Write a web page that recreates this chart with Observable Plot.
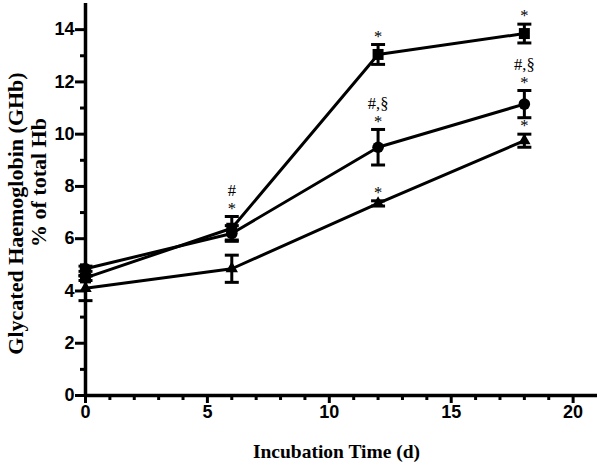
<!DOCTYPE html>
<html><head><meta charset="utf-8">
<script src="https://cdn.jsdelivr.net/npm/d3@7"></script>
<script src="https://cdn.jsdelivr.net/npm/@observablehq/plot@0.6"></script>
<style>body{margin:0;background:#fff}</style>
</head><body><div id="chart"></div>
<script>
// ---- data ----
const days = [0, 6, 12, 18];
const seriesNames = ["square", "circle", "triangle"];
const squareMean = [4.5, 6.4, 13.05, 13.85];
const squareErr = [0.1, 0.45, 0.38, 0.36];
const circleMean = [4.85, 6.2, 9.5, 11.15];
const circleErr = [0.1, 0.3, 0.68, 0.52];
const triangleMean = [4.1, 4.85, 7.35, 9.75];
const triangleErr = [0.47, 0.52, 0.1, 0.25];

const annDay = [6, 6, 12, 12, 12, 12, 18, 18, 18, 18];
const annSeries = ["square", "square", "square", "circle", "circle", "triangle", "square", "circle", "circle", "triangle"];
const annText = ["*", "#", "*", "*", "#,§", "*", "*", "*", "#,§", "*"];
const annLevel = [0, 1, 0, 0, 1, 0, 0, 0, 1, 0];

const xMajorTicks = [0, 5, 10, 15, 20];
const xMinorTicks = [1, 2, 3, 4, 6, 7, 8, 9, 11, 12, 13, 14, 16, 17, 18, 19];
const yMajorTicks = [0, 2, 4, 6, 8, 10, 12, 14];
const yMinorTicks = [1, 3, 5, 7, 9, 11, 13];

const xLabel = "Incubation Time (d)";
const yLabel1 = "Glycated Haemoglobin (GHb)";
const yLabel2 = "% of total Hb";

// ---- build table ----
const meanBy = {square: squareMean, circle: circleMean, triangle: triangleMean};
const errBy = {square: squareErr, circle: circleErr, triangle: triangleErr};
const rows = [];
for (const s of seriesNames) {
  days.forEach((d, i) => rows.push({series: s, day: d, mean: meanBy[s][i], lo: meanBy[s][i] - errBy[s][i], hi: meanBy[s][i] + errBy[s][i]}));
}
const anns = annDay.map((d, i) => {
  const k = days.indexOf(d);
  const s = annSeries[i];
  return {day: d, top: meanBy[s][k] + errBy[s][k], text: annText[i], level: annLevel[i]};
});

const capSymbol = {draw(ctx) { ctx.moveTo(-7, 0); ctx.lineTo(7, 0); }};
const serif = "Liberation Serif";
const sans = "Liberation Sans";

const chart = Plot.plot({
  width: 600,
  height: 470,
  marginLeft: 85,
  marginRight: 3,
  marginTop: 3,
  marginBottom: 75,
  style: {fontFamily: sans, color: "black", background: "white"},
  x: {domain: [0, 21], axis: null},
  y: {domain: [0, 15], axis: null},
  marks: [
    Plot.axisX({ticks: xMinorTicks, tickSize: 5, text: null, strokeWidth: 3, label: null}),
    Plot.axisX({ticks: xMajorTicks, tickSize: 8, tickPadding: 2, strokeWidth: 3, fontSize: 18, fontWeight: "bold", label: null}),
    Plot.axisY({ticks: yMinorTicks, tickSize: 5, text: null, strokeWidth: 3, label: null}),
    Plot.axisY({ticks: yMajorTicks, tickSize: 10, tickPadding: 1, strokeWidth: 3, fontSize: 18, fontWeight: "bold", label: null}),
    Plot.ruleY([0], {strokeWidth: 3.5}),
    Plot.ruleX([0], {strokeWidth: 3.5}),
    Plot.line(rows, {x: "day", y: "mean", z: "series", stroke: "black", strokeWidth: 3}),
    Plot.ruleX(rows, {x: "day", y1: "lo", y2: "hi", stroke: "black", strokeWidth: 3}),
    Plot.dot(rows, {x: "day", y: "lo", symbol: capSymbol, stroke: "black", strokeWidth: 3, fill: "none"}),
    Plot.dot(rows, {x: "day", y: "hi", symbol: capSymbol, stroke: "black", strokeWidth: 3, fill: "none"}),
    Plot.dot(rows.filter(d => d.series === "square"), {x: "day", y: "mean", symbol: "square", r: 6.2, fill: "black"}),
    Plot.dot(rows.filter(d => d.series === "circle"), {x: "day", y: "mean", symbol: "circle", r: 5.8, fill: "black"}),
    Plot.dot(rows.filter(d => d.series === "triangle"), {x: "day", y: "mean", symbol: "triangle", r: 4.6, fill: "black"}),
    Plot.text(anns.filter(d => d.level === 0), {x: "day", y: "top", text: "text", dy: -8, fontFamily: serif, fontSize: 16.5, fill: "black"}),
    Plot.text(anns.filter(d => d.level === 1), {x: "day", y: "top", text: "text", dy: -26, fontFamily: serif, fontSize: 16.5, fill: "black"}),
    Plot.text([xLabel], {frameAnchor: "bottom", dx: -5, dy: 62, fontFamily: serif, fontWeight: "bold", fontSize: 19.5, fill: "black"}),
    Plot.text([yLabel1], {frameAnchor: "left", textAnchor: "middle", rotate: -90, dx: -70, dy: 14, fontFamily: serif, fontWeight: "bold", fontSize: 22, fill: "black"}),
    Plot.text([yLabel2], {frameAnchor: "left", textAnchor: "middle", rotate: -90, dx: -47, dy: -17, fontFamily: serif, fontWeight: "bold", fontSize: 22, fill: "black"})
  ]
});
document.getElementById("chart").appendChild(chart);
</script>
</body></html>
